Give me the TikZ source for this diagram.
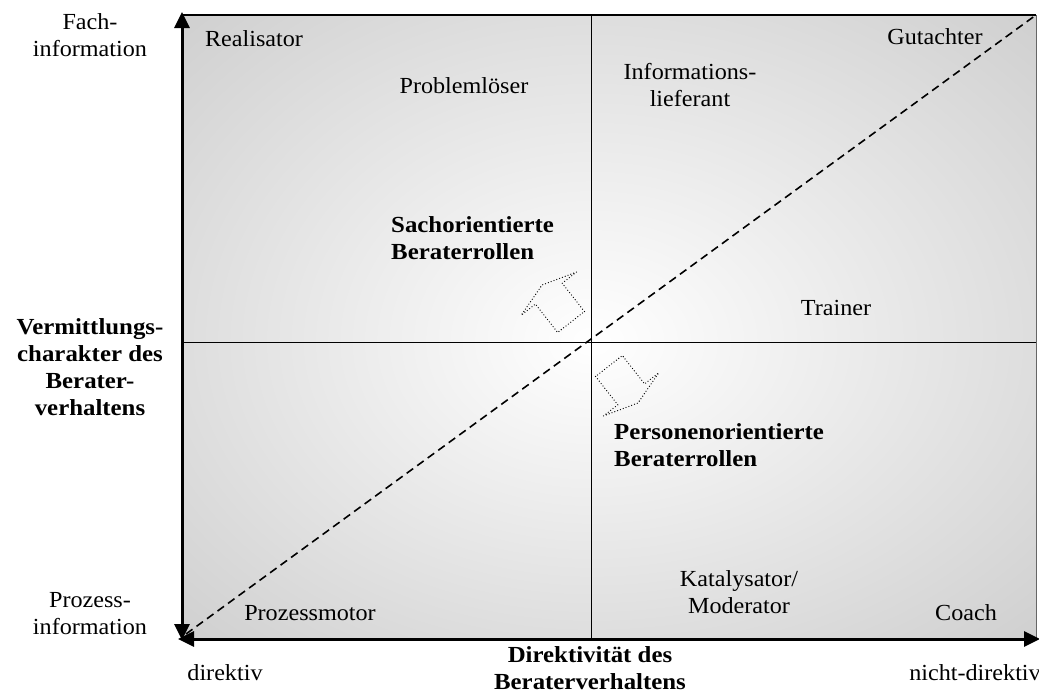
\documentclass[tikz,border=0pt]{standalone}
\usepackage{fontspec}
\setmainfont{Liberation Serif}[FakeStretch=1.05,BoldFeatures={FakeStretch=1.08}]
\usetikzlibrary{arrows.meta}
\definecolor{quadgray}{RGB}{188,188,188}
\tikzset{
  lbl/.style={font=\fontsize{23}{27}\selectfont, align=center, inner sep=0pt},
  blbl/.style={lbl, font=\fontsize{23}{27}\selectfont\bfseries},
  axisarrow/.style={line width=3pt,
    {Triangle[length=16pt,width=15pt]}-{Triangle[length=16pt,width=15pt]}},
  diag/.style={line width=1.6pt, dash pattern=on 8pt off 5pt},
  blockarrow/.style={line width=1.3pt, line cap=round, dash pattern=on 0pt off 3pt},
  midline/.style={line width=0.8pt},
  quadshade/.style={inner color=white, outer color=quadgray},
}
\begin{document}
\begin{tikzpicture}[x=1pt,y=-1pt]
\useasboundingbox (0,0) rectangle (1039,694);

% frame corners and centre
\coordinate (TL) at (181,15);
\coordinate (TR) at (1036,15);
\coordinate (BL) at (181,638);
\coordinate (BR) at (1036,638);
\coordinate (C)  at (591,342);
\coordinate (TM) at (591,15);
\coordinate (BM) at (591,638);
\coordinate (LM) at (181,342);
\coordinate (RM) at (1036,342);

% four quadrants, each lightening towards the centre
\begin{scope}
  \clip (TL) rectangle (C);
  \shade[quadshade] (C) ellipse [x radius=820pt, y radius=654pt];
\end{scope}
\begin{scope}
  \clip (TR) rectangle (C);
  \shade[quadshade] (C) ellipse [x radius=890pt, y radius=654pt];
\end{scope}
\begin{scope}
  \clip (BL) rectangle (C);
  \shade[quadshade] (C) ellipse [x radius=820pt, y radius=592pt];
\end{scope}
\begin{scope}
  \clip (BR) rectangle (C);
  \shade[quadshade] (C) ellipse [x radius=890pt, y radius=592pt];
\end{scope}

% dividing lines and frame
\draw[midline] (TM) -- (BM);
\draw[midline] (LM) -- (RM);
\draw[line width=0.6pt, black!60] (TR) -- (BR);
\draw[line width=2.5pt] (TL) -- (TR);

% diagonal
\coordinate (dstart) at (186,634);
\draw[diag] (dstart) -- (TR);

% axes
\coordinate (vtop) at (182,12);
\coordinate (vbot) at (182,640);
\coordinate (hleft) at (178,639);
\coordinate (hright) at (1040,639);
\draw[axisarrow] (vbot) -- (vtop);
\draw[axisarrow] (hleft) -- (hright);

% dotted block arrows
\draw[blockarrow, shift={(571,322)}, rotate=128]
  (0pt,-17pt) -- (36pt,-17pt) -- (36pt,-35pt) -- (47pt,0pt)
  -- (36pt,35pt) -- (36pt,17pt) -- (0pt,17pt) -- cycle;
\draw[blockarrow, shift={(609,366)}, rotate=-52]
  (0pt,-17pt) -- (36pt,-17pt) -- (36pt,-35pt) -- (47pt,0pt)
  -- (36pt,35pt) -- (36pt,17pt) -- (0pt,17pt) -- cycle;

% axis labels
\node[lbl]  (fach)   at (90,35)    {Fach-\\information};
\node[blbl] (vermit) at (90,367)   {Vermittlungs-\\charakter des\\Berater-\\verhaltens};
\node[lbl]  (proz)   at (90,614)   {Prozess-\\information};
\node[lbl]  (dir)    at (225,673)  {direktiv};
\node[blbl] (direkt) at (590,668)  {Direktivität des\\Beraterverhaltens};
\node[lbl]  (ndir)   at (975,673)  {nicht-direktiv};

% roles
\node[lbl]  (real)   at (254,39)   {Realisator};
\node[lbl]  (probl)  at (464,86)   {Problemlöser};
\node[lbl]  (info)   at (690,85)   {Informations-\\lieferant};
\node[lbl]  (gut)    at (935,37)   {Gutachter};
\node[blbl, align=left, anchor=west] (sach) at (391,238) {Sachorientierte\\Beraterrollen};
\node[lbl]  (train)  at (836,308)  {Trainer};
\node[blbl, align=left, anchor=west] (pers) at (614,445) {Personenorientierte\\Beraterrollen};
\node[lbl]  (kat)    at (739,592)  {Katalysator/\\Moderator};
\node[lbl]  (pmot)   at (310,613)  {Prozessmotor};
\node[lbl]  (coach)  at (966,613)  {Coach};
\end{tikzpicture}
\end{document}
